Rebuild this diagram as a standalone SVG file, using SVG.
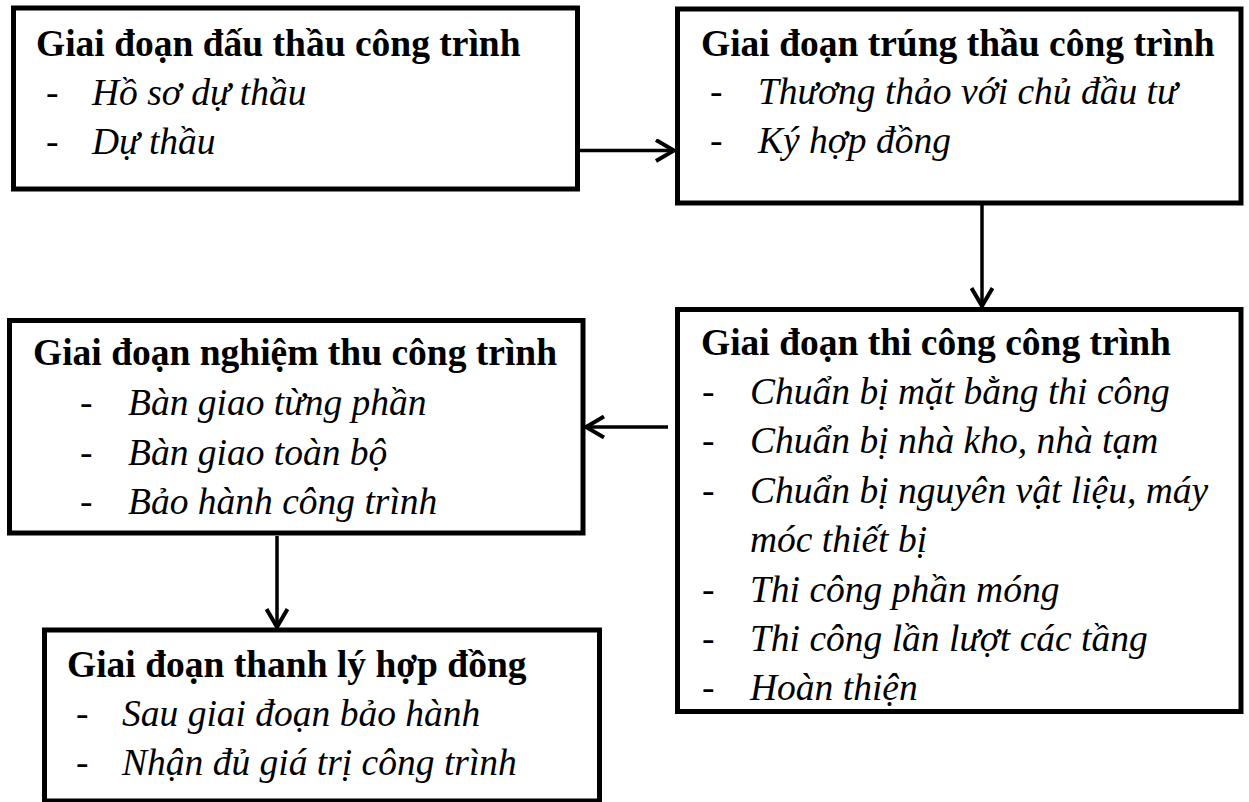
<svg xmlns="http://www.w3.org/2000/svg" width="1249" height="802" viewBox="0 0 1249 802">
<defs>
<style>
.box{fill:#fff;stroke:#000;stroke-width:5}
.t{font-family:"Liberation Serif","Times New Roman",serif;font-size:37.5px;font-weight:bold;fill:#000}
.i{font-family:"Liberation Serif","Times New Roman",serif;font-size:37.5px;font-style:italic;fill:#000}
.d{font-family:"Liberation Serif","Times New Roman",serif;font-size:37.5px;fill:#000}
.c{fill:none;stroke:#000;stroke-width:3.5}
</style>
<marker id="ah" viewBox="0 0 24 24" markerUnits="userSpaceOnUse" markerWidth="24" markerHeight="24" refX="21" refY="12" orient="auto">
<path d="M3,1.5 L21,12 L3,22.5" fill="none" stroke="#000" stroke-width="4"/>
</marker>
</defs>
<rect width="1249" height="802" fill="#fff"/>
<g id="connectors">
<line class="c" x1="580" y1="150.5" x2="674" y2="150.5" marker-end="url(#ah)"/>
<line class="c" x1="982" y1="205" x2="982" y2="306" marker-end="url(#ah)"/>
<line class="c" x1="668" y1="427" x2="586" y2="427" marker-end="url(#ah)"/>
<line class="c" x1="277" y1="536" x2="277" y2="627" marker-end="url(#ah)"/>
</g>
<g id="n1">
<rect class="box" x="13.5" y="8" width="564" height="181"/>
<text class="t" x="36" y="56">Giai đoạn đấu thầu công trình</text>
<text class="d" x="46" y="105">-</text><text class="i" x="92" y="105">Hồ sơ dự thầu</text>
<text class="d" x="46" y="154">-</text><text class="i" x="92" y="154">Dự thầu</text>
</g>
<g id="n2">
<rect class="box" x="677.5" y="9" width="563.5" height="194"/>
<text class="t" x="701" y="56">Giai đoạn trúng thầu công trình</text>
<text class="d" x="710" y="104">-</text><text class="i" x="758" y="104">Thương thảo với chủ đầu tư</text>
<text class="d" x="710" y="153">-</text><text class="i" x="758" y="153">Ký hợp đồng</text>
</g>
<g id="n3">
<rect class="box" x="677.5" y="309.5" width="563.5" height="402"/>
<text class="t" x="701" y="355">Giai đoạn thi công công trình</text>
<text class="d" x="702" y="404">-</text><text class="i" x="750" y="404">Chuẩn bị mặt bằng thi công</text>
<text class="d" x="702" y="453">-</text><text class="i" x="750" y="453">Chuẩn bị nhà kho, nhà tạm</text>
<text class="d" x="702" y="503">-</text><text class="i" x="750" y="503">Chuẩn bị nguyên vật liệu, máy</text>
<text class="i" x="750" y="552">móc thiết bị</text>
<text class="d" x="702" y="602">-</text><text class="i" x="750" y="602">Thi công phần móng</text>
<text class="d" x="702" y="651">-</text><text class="i" x="750" y="651">Thi công lần lượt các tầng</text>
<text class="d" x="702" y="700">-</text><text class="i" x="750" y="700">Hoàn thiện</text>
</g>
<g id="n4">
<rect class="box" x="9.5" y="320.5" width="573.5" height="212.5"/>
<text class="t" x="33" y="365">Giai đoạn nghiệm thu công trình</text>
<text class="d" x="80" y="415">-</text><text class="i" x="128" y="415">Bàn giao từng phần</text>
<text class="d" x="80" y="465">-</text><text class="i" x="128" y="465">Bàn giao toàn bộ</text>
<text class="d" x="80" y="514">-</text><text class="i" x="128" y="514">Bảo hành công trình</text>
</g>
<g id="n5">
<rect class="box" x="44.5" y="630" width="555" height="171"/>
<text class="t" x="67" y="677">Giai đoạn thanh lý hợp đồng</text>
<text class="d" x="76" y="726">-</text><text class="i" x="122" y="726">Sau giai đoạn bảo hành</text>
<text class="d" x="76" y="775">-</text><text class="i" x="122" y="775">Nhận đủ giá trị công trình</text>
</g>
</svg>
